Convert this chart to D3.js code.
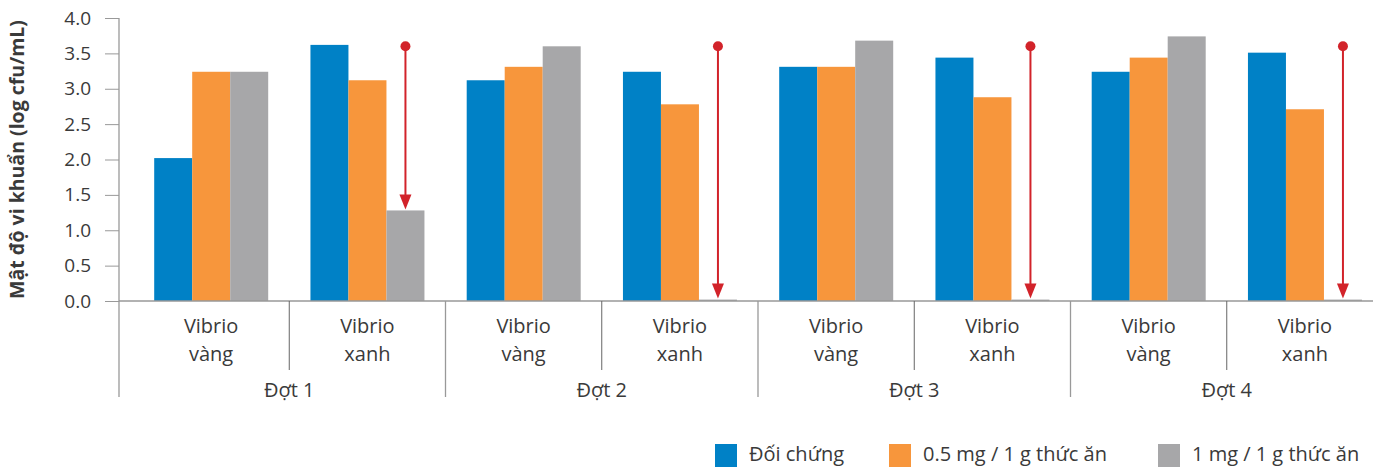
<html>
<head>
<script src="https://d3js.org/d3.v7.min.js"></script>
<style>
  body { margin: 0; background: #fff; }
  text { font-family: "Open Sans", "Noto Sans", sans-serif; }
</style>
</head>
<body>
<svg width="1373" height="467"></svg>
<script>
// data
const groups = ["Đợt 1", "Đợt 2", "Đợt 3", "Đợt 4"];
const subs = ["Vibrio vàng", "Vibrio xanh"];
const series = ["Đối chứng", "0.5 mg / 1 g thức ăn", "1 mg / 1 g thức ăn"];
const colors = ["#0081C6", "#F7963C", "#A7A7A9"];
const control = [2.02, 3.62, 3.12, 3.24, 3.31, 3.44, 3.24, 3.51];
const dose05 = [3.24, 3.12, 3.31, 2.78, 3.31, 2.88, 3.44, 2.71];
const dose1 = [3.24, 1.28, 3.60, 0.02, 3.68, 0.02, 3.74, 0.02];
const arrowFrom = 3.6; // arrows on Vibrio xanh, 1 mg
const yTicks = [0, 0.5, 1, 1.5, 2, 2.5, 3, 3.5, 4];

const svg = d3.select("svg");
const axisX = 119, plotTop = 18, base = 301;
const textCol = "#3a3a3a";

const cats = [];
groups.forEach(g => subs.forEach(s => cats.push(g + "|" + s)));
const values = [control, dose05, dose1];

const y = d3.scaleLinear().domain([0, 4]).range([base, plotTop]);
const x0 = d3.scaleBand().domain(cats).range([133, 1383]);
const x1 = d3.scaleBand().domain(series).range([21.2, 135.2]);

// bars
cats.forEach(function(c, i) {
  const g = svg.append("g").attr("transform", "translate(" + x0(c) + ",0)");
  series.forEach(function(s, j) {
    const v = values[j][i];
    g.append("rect")
      .attr("x", x1(s))
      .attr("width", x1.bandwidth())
      .attr("y", y(v))
      .attr("height", base - y(v))
      .attr("fill", colors[j]);
  });
});

// y axis
const ya = svg.append("g")
  .attr("transform", "translate(" + axisX + ",0)")
  .call(d3.axisLeft(y).tickValues(yTicks).tickFormat(d3.format(".1f")).tickSize(14).tickPadding(14));
ya.select(".domain").remove();
ya.selectAll(".tick line").attr("stroke", "#999");
ya.selectAll(".tick text").attr("fill", textCol).style("font-size", "19px")
  .style("font-family", "'Open Sans', sans-serif");
svg.append("line").attr("x1", axisX).attr("x2", axisX).attr("y1", plotTop).attr("y2", 397)
  .attr("stroke", "#999").attr("stroke-width", 1.3);

// baseline
svg.append("line").attr("x1", axisX).attr("x2", 1373).attr("y1", base).attr("y2", base)
  .attr("stroke", "#999").attr("stroke-width", 1.5);

// category axis
cats.forEach(function(c, i) {
  const cx = x0(c) + x0.bandwidth() / 2;
  const parts = c.split("|")[1].split(" ");
  svg.append("text").attr("x", cx).attr("y", 333).attr("text-anchor", "middle")
    .attr("fill", textCol).style("font-size", "20px").text(parts[0]);
  svg.append("text").attr("x", cx).attr("y", 361).attr("text-anchor", "middle")
    .attr("fill", textCol).style("font-size", "20px").text(parts[1]);
  if (i % 2 == 1) {
    const sx = x0(c);
    svg.append("line").attr("x1", sx).attr("x2", sx).attr("y1", base).attr("y2", 370)
      .attr("stroke", "#666").attr("stroke-width", 1);
  }
});
groups.forEach(function(g, k) {
  const start = x0(g + "|" + subs[0]);
  const end = x0(g + "|" + subs[1]) + x0.bandwidth();
  svg.append("text").attr("x", (start + end) / 2).attr("y", 397).attr("text-anchor", "middle")
    .attr("fill", textCol).style("font-size", "20px").text(g);
  if (k > 0) {
    svg.append("line").attr("x1", start).attr("x2", start).attr("y1", base).attr("y2", 397)
      .attr("stroke", "#999").attr("stroke-width", 1.3);
  }
});

// arrows
cats.forEach(function(c, i) {
  if (i % 2 == 0) return;
  const ax = x0(c) + x1(series[2]) + x1.bandwidth() / 2;
  const yEnd = y(dose1[i]);
  const y0 = y(arrowFrom);
  svg.append("line").attr("x1", ax).attr("x2", ax).attr("y1", y0).attr("y2", yEnd - 14)
    .attr("stroke", "#D2232A").attr("stroke-width", 2);
  svg.append("circle").attr("cx", ax).attr("cy", y0).attr("r", 5).attr("fill", "#D2232A");
  svg.append("path")
    .attr("d", "M" + (ax - 6) + "," + (yEnd - 16) + "L" + (ax + 6) + "," + (yEnd - 16) + "L" + ax + "," + (yEnd - 1) + "Z")
    .attr("fill", "#D2232A");
});

// y label
svg.append("text")
  .attr("transform", "translate(24," + ((plotTop + base) / 2) + ") rotate(-90)")
  .attr("text-anchor", "middle")
  .attr("fill", textCol)
  .style("font-size", "19.5px").style("font-weight", "bold")
  .text("Mật độ vi khuẩn (log cfu/mL)");

// legend
const legX = [715, 889, 1158];
series.forEach(function(s, j) {
  svg.append("rect").attr("x", legX[j]).attr("y", 444).attr("width", 22).attr("height", 23).attr("fill", colors[j]);
  svg.append("text").attr("x", legX[j] + 34).attr("y", 461).attr("fill", textCol)
    .style("font-size", "20px").text(s);
});
</script>
</body>
</html>
